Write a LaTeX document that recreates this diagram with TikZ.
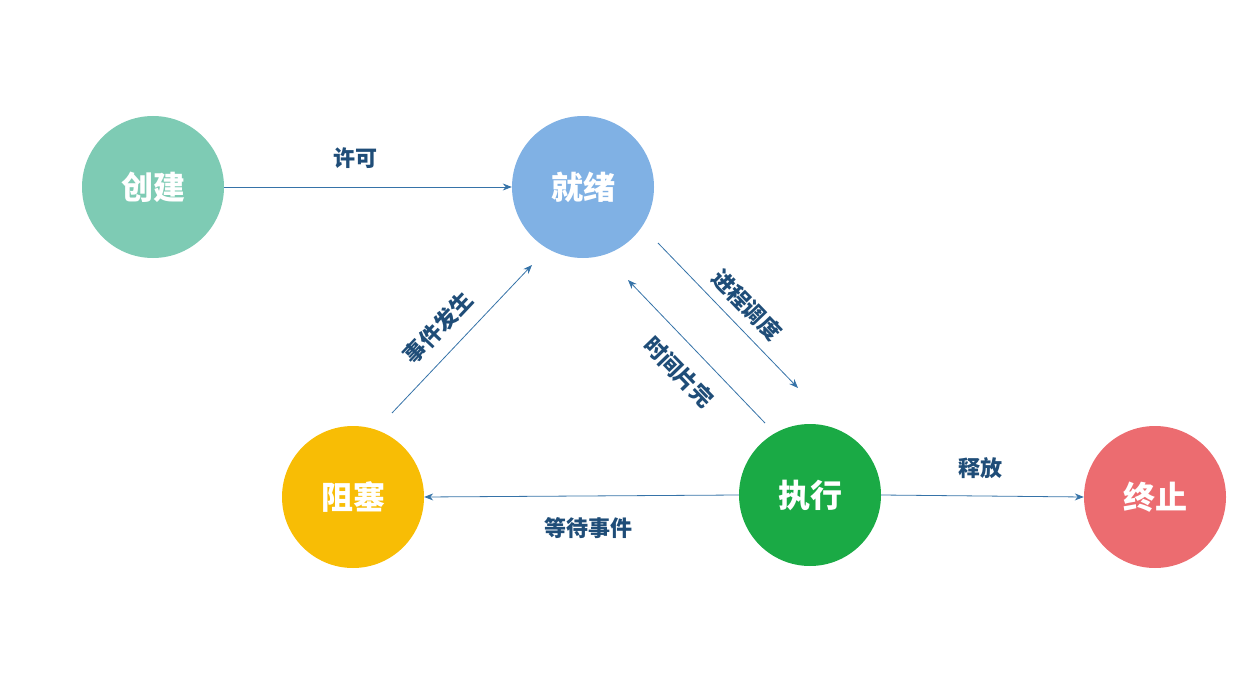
\documentclass[tikz,border=0pt]{standalone}
\usepackage{fontspec}
\newfontfamily\cjk{Noto Sans CJK SC}
\usetikzlibrary{arrows.meta}
\definecolor{cA}{HTML}{7ECBB4}
\definecolor{cB}{HTML}{80B1E4}
\definecolor{cC}{HTML}{F8BD05}
\definecolor{cD}{HTML}{1AAA45}
\definecolor{cE}{HTML}{EC6C70}
\definecolor{ln}{HTML}{3673A8}
\definecolor{lb}{HTML}{1F4D78}
\begin{document}
\begin{tikzpicture}[x=1pt,y=-1pt,
  st/.style={circle,minimum size=142pt,inner sep=0pt,text=white,font=\cjk\bfseries\fontsize{32}{36}\selectfont},
  ar/.style={draw=ln,line width=0.8pt,-{Stealth[length=9pt,width=7pt]}},
  lbl/.style={text=lb,font=\cjk\bfseries\fontsize{22}{25}\selectfont}]
\useasboundingbox (0,0) rectangle (1245,674);
\node[st,fill=cA] (cj) at (153,187) {创建};
\node[st,fill=cB] (jx) at (583,187) {就绪};
\node[st,fill=cC] (zs) at (353,497) {阻塞};
\node[st,fill=cD] (zx) at (810,495) {执行};
\node[st,fill=cE] (zz) at (1155,497) {终止};
\coordinate (a1) at (392,413); \coordinate (a2) at (532,265);
\coordinate (b1) at (658,243); \coordinate (b2) at (798,388);
\coordinate (c1) at (765,423); \coordinate (c2) at (628,280);
\draw[ar] (cj.east) -- (jx.west);
\draw[ar] (a1) -- (a2);
\draw[ar] (b1) -- (b2);
\draw[ar] (c1) -- (c2);
\draw[ar] (zx.west) -- (zs.east);
\draw[ar] (zx.east) -- (zz.west);
\node[lbl] (l1) at (355,158) {许可};
\node[lbl,rotate=46.6] (l2) at (438,328) {事件发生};
\node[lbl,rotate=-46] (l3) at (747,305) {进程调度};
\node[lbl,rotate=-46] (l4) at (679,372) {时间片完};
\node[lbl] (l5) at (588,528) {等待事件};
\node[lbl] (l6) at (980,468) {释放};
\end{tikzpicture}
\end{document}
